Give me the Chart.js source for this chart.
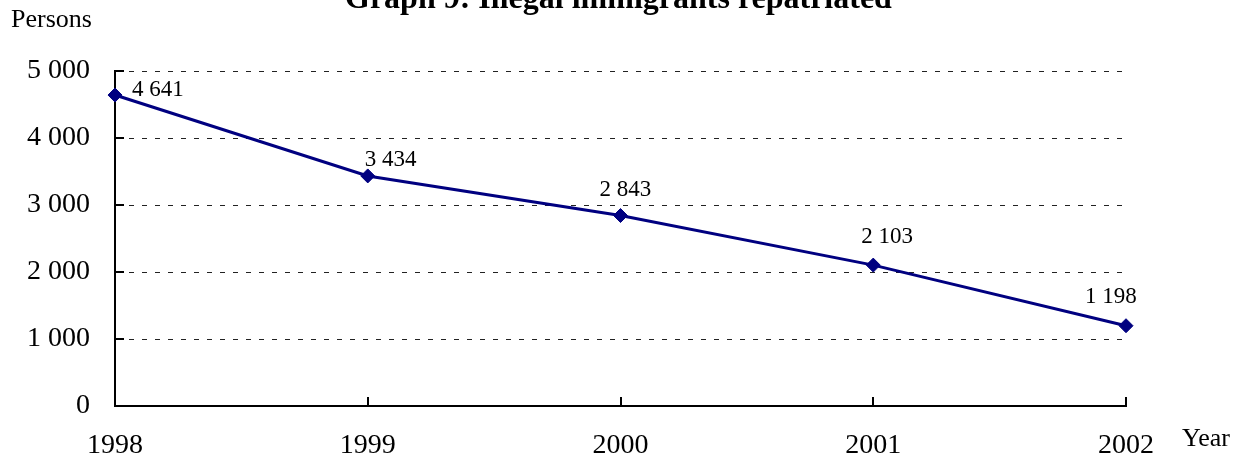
<!DOCTYPE html>
<html>
<head>
<meta charset="utf-8">
<script src="https://cdn.jsdelivr.net/npm/chart.js@4/dist/chart.umd.min.js"></script>
<style>
  html, body { margin: 0; padding: 0; background: #fff; }
  #wrap { position: relative; width: 1247px; height: 467px; overflow: hidden; font-family: "Liberation Serif", "Times New Roman", serif; color: #000; }
  #c { position: absolute; left: 0; top: 0; }
  .t { position: absolute; white-space: nowrap; }
  #title { left: 345px; top: -19px; font-size: 32px; line-height: 32px; font-weight: bold; }
  #ylab { left: 11px; top: 6px; font-size: 26px; line-height: 26px; }
  #xlab { left: 1182px; top: 425px; font-size: 26px; line-height: 26px; }
</style>
</head>
<body>
<div id="wrap">
  <canvas id="c" width="1247" height="467"></canvas>
  <div class="t" id="title">Graph 9: Illegal immigrants repatriated</div>
  <div class="t" id="ylab">Persons</div>
  <div class="t" id="xlab">Year</div>
</div>
<script>
const years = ['1998', '1999', '2000', '2001', '2002'];
const repatriated = [4641, 3434, 2843, 2103, 1198];
const yTickValues = [0, 1000, 2000, 3000, 4000, 5000];

// label placement offsets (left edge / baseline relative to the point)
const labelOffsets = [[17, 1], [-3, -10], [-21, -20], [-12, -22], [-41, -23]];

function fmt(v) {
  return String(v).replace(/\B(?=(\d{3})+(?!\d))/g, ' ');
}

const navy = '#000080';

const extras = {
  id: 'extras',
  afterDraw(chart) {
    const ctx = chart.ctx;
    const x = chart.scales.x, y = chart.scales.y;
    const area = chart.chartArea;
    ctx.save();
    // inward tick marks
    ctx.strokeStyle = '#000';
    ctx.lineWidth = 2;
    ctx.beginPath();
    yTickValues.forEach(v => {
      const py = Math.round(y.getPixelForValue(v));
      ctx.moveTo(area.left, py);
      ctx.lineTo(area.left + 9, py);
    });
    years.forEach((_, i) => {
      const px = Math.round(x.getPixelForValue(i));
      ctx.moveTo(px, area.bottom);
      ctx.lineTo(px, area.bottom - 9);
    });
    ctx.stroke();
    // data labels
    const meta = chart.getDatasetMeta(0);
    ctx.fillStyle = '#000';
    ctx.font = '23px "Liberation Serif", "Times New Roman", serif';
    ctx.textAlign = 'left';
    ctx.textBaseline = 'alphabetic';
    meta.data.forEach((pt, i) => {
      const o = labelOffsets[i];
      ctx.fillText(fmt(repatriated[i]), pt.x + o[0], pt.y + o[1]);
    });
    ctx.restore();
  }
};

new Chart(document.getElementById('c'), {
  type: 'line',
  data: {
    labels: years,
    datasets: [{
      data: repatriated,
      borderColor: navy,
      backgroundColor: navy,
      borderWidth: 3,
      pointStyle: 'rectRot',
      pointRadius: 7,
      pointHoverRadius: 7,
      pointBackgroundColor: navy,
      pointBorderColor: navy,
      pointBorderWidth: 1,
      tension: 0,
      fill: false
    }]
  },
  options: {
    responsive: false,
    animation: false,
    events: [],
    layout: { padding: { left: 0, right: 121, top: 71, bottom: 0 } },
    plugins: { legend: { display: false }, tooltip: { enabled: false }, title: { display: false } },
    scales: {
      x: {
        type: 'category',
        offset: false,
        grid: { display: false, drawTicks: false },
        border: { display: true, color: '#000', width: 2 },
        ticks: {
          color: '#000',
          font: { family: '"Liberation Serif", "Times New Roman", serif', size: 28 },
          padding: 23,
          maxRotation: 0,
          autoSkip: false
        },
        afterFit(s) { s.height = 61; }
      },
      y: {
        min: 0,
        max: 5000,
        grid: {
          display: true,
          drawTicks: false,
          color: '#222',
          lineWidth: 1
        },
        border: { display: true, color: '#000', width: 2, dash: [5, 8] },
        ticks: {
          stepSize: 1000,
          color: '#000',
          font: { family: '"Liberation Serif", "Times New Roman", serif', size: 28 },
          padding: 25,
          callback: v => fmt(v)
        },
        afterFit(s) { s.width = 115; }
      }
    }
  },
  plugins: [extras]
});
</script>
</body>
</html>
